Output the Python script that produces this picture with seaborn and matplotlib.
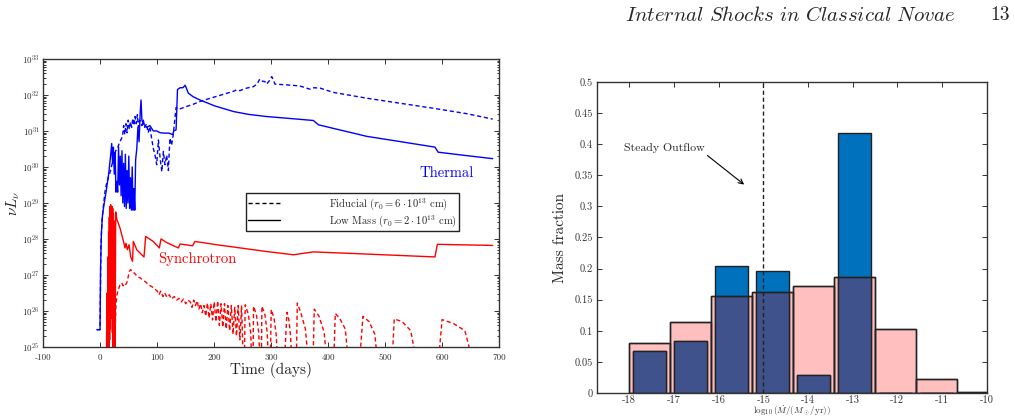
import numpy as np
import matplotlib
matplotlib.use('Agg')
import matplotlib.pyplot as plt
import matplotlib.ticker as mticker
import seaborn as sns

# ---- left panel: light curves (days, log10 nu L_nu) ----
thermal_lm_day = [-6, -0.5, 0.5, 2, 4, 7, 11, 15, 18, 20,
                  21.5, 23, 24.5, 26, 27.5, 29, 30.5, 32, 33.5, 35,
                  36.5, 38, 39.5, 41, 42.5, 44, 45.5, 47, 48.5, 50,
                  51.5, 53, 54.5, 56, 57.5, 59, 60.5, 62, 64, 66,
                  68, 70, 71.5, 73, 75.5, 81.5, 87, 93, 99, 105,
                  112, 120, 127, 129, 133, 135.5, 140, 145, 149, 154.5,
                  163, 175, 200, 233.5, 260, 292, 330, 374, 383, 420,
                  467.6, 520, 587.5, 593, 640, 688.8]
thermal_lm_log = [25.48, 25.48, 27.2, 28.2, 28.7, 29.0, 29.4, 29.85, 30.3, 30.65,
                  30.1, 30.55, 29.8, 30.4, 29.3, 29.6, 29.3, 30.55, 29.5, 30.3,
                  29.2, 30.45, 29.0, 30.1, 28.9, 30.35, 28.85, 29.9, 29.0, 30.3,
                  28.85, 29.7, 28.8, 30.0, 28.8, 29.4, 28.8, 30.2, 30.5, 31.1,
                  30.7, 31.5, 31.86, 31.3, 31.2, 31.1, 31.15, 31.0, 31.0, 30.95,
                  30.94, 30.94, 30.9, 31.0, 31.03, 32.15, 32.2, 32.2, 32.27, 32.05,
                  31.95, 31.86, 31.7, 31.54, 31.46, 31.4, 31.35, 31.29, 31.17, 31.03,
                  30.85, 30.72, 30.55, 30.41, 30.32, 30.23]

thermal_fid_day = [-6, -0.5, 1, 3, 6, 9, 12, 15, 18, 21,
                   24, 27, 30, 33, 36, 39, 41, 43, 45, 47,
                   49, 51, 53, 55, 57, 59, 61, 63, 65, 67,
                   69, 71, 73, 75.5, 78, 81, 84, 87, 90, 93,
                   96, 99, 102, 105, 108, 110.7, 113.6, 116.5, 119.5, 121,
                   122.4, 125, 128, 133, 137, 143, 151.6, 163, 175, 204,
                   233.5, 239, 245, 257, 268.6, 275, 280, 285, 289, 292,
                   297, 301, 306.7, 327, 350, 368, 375, 385.7, 409, 467.6,
                   526, 584.6, 643, 688.8]
thermal_fid_log = [25.48, 25.48, 27.8, 28.5, 29.0, 29.4, 29.6, 29.75, 29.9, 30.1,
                   30.25, 30.45, 30.5, 30.65, 30.75, 30.85, 31.15, 30.9, 31.2, 30.95,
                   31.3, 31.05, 31.25, 31.1, 31.35, 31.15, 31.4, 31.2, 31.45, 31.1,
                   31.3, 31.25, 31.15, 31.3, 31.1, 31.2, 30.95, 31.12, 30.8, 30.52,
                   30.33, 30.06, 30.75, 30.24, 29.87, 30.43, 30.06, 30.33, 29.9, 30.43,
                   30.8, 30.6, 30.89, 31.65, 31.6, 31.63, 31.68, 31.74, 31.82, 31.96,
                   32.1, 32.14, 32.12, 32.19, 32.23, 32.3, 32.44, 32.38, 32.37, 32.3,
                   32.4, 32.51, 32.3, 32.28, 32.25, 32.16, 32.2, 32.19, 32.07, 31.91,
                   31.77, 31.63, 31.48, 31.33]

sync_lm_day = [10, 12, 12.7, 13.4, 14, 14.6, 15.2, 15.8, 16.4, 17,
               17.6, 18.2, 18.8, 19.4, 20, 20.6, 21.2, 21.8, 22.4, 23,
               23.6, 24.2, 24.8, 25.4, 26, 27, 29, 34.6, 40.4, 43.4,
               45, 47.5, 50.5, 53.4, 56.5, 58, 64, 72.7, 76.7, 79.6,
               93, 103.6, 106.6, 116.5, 137, 140, 162, 166, 204, 292,
               339, 374, 467.6, 587.5, 591.6, 688.8]
sync_lm_log = [24.0, 26.5, 24.5, 27.5, 24.6, 28.2, 24.8, 28.6, 25.2, 28.9,
               25.5, 28.95, 25.8, 28.9, 26.0, 28.9, 25.4, 28.85, 25.0, 28.7,
               24.5, 28.5, 24.5, 28.4, 24.8, 28.75, 28.55, 28.3, 27.95, 27.75,
               27.88, 27.7, 27.84, 27.5, 27.38, 27.93, 27.7, 27.56, 27.5, 28.07,
               27.93, 27.75, 28.0, 27.9, 27.75, 27.86, 27.81, 27.93, 27.84, 27.65,
               27.56, 27.64, 27.58, 27.5, 27.85, 27.82]

sync_fid_day = [24, 26, 27.6, 29.2, 32, 34.6, 37.6, 40, 42, 44,
                46.4, 49, 51, 53.4, 56, 60, 65, 70, 75, 80,
                85, 90, 95, 100, 103, 106, 110, 113, 117, 121,
                125, 130, 134, 138, 142, 146, 150, 154, 158, 161,
                164, 167, 170, 173, 176, 179, 182, 185, 188, 191,
                194, 197, 200, 203, 206, 209, 212, 215, 218, 221,
                224, 227, 230, 233, 236, 239, 242, 245, 248, 251,
                252.7, 254.4, 260, 264, 266, 268, 269, 274, 278, 280.8,
                282.6, 283.7, 289, 293, 295.4, 298.4, 300, 305, 309, 311.2,
                323, 327.6, 331, 334, 336.4, 344, 345.8, 352, 360, 365.7,
                373.3, 375.6, 384, 393, 398, 409.6, 412.5, 420, 430, 436,
                454.7, 461, 472, 482, 487, 512, 516, 530, 545, 556,
                593, 600, 620, 640, 655.5]
sync_fid_log = [24.5, 25.4, 26.2, 26.45, 26.6, 26.73, 26.78, 26.7, 26.75, 26.72,
                26.78, 26.95, 27.1, 27.15, 27.08, 27.05, 26.95, 26.92, 26.85, 26.8,
                26.72, 26.68, 26.62, 26.55, 26.45, 26.55, 26.4, 26.5, 26.38, 26.45,
                26.33, 26.4, 26.3, 26.35, 26.25, 26.33, 26.2, 26.3, 26.25, 26.1,
                26.3, 26.15, 26.28, 26.05, 26.2, 25.95, 26.15, 25.85, 26.22, 25.8,
                26.2, 25.75, 26.25, 25.7, 26.28, 25.6, 26.2, 25.55, 26.2, 25.5,
                26.15, 25.45, 26.15, 25.35, 26.1, 25.3, 26.15, 25.2, 26.15, 24.5,
                24.5, 26.17, 25.9, 25.4, 24.5, 24.5, 26.13, 25.9, 25.4, 24.5,
                24.5, 26.13, 25.9, 25.4, 24.5, 24.5, 26.04, 25.8, 25.3, 24.5,
                24.5, 25.96, 25.75, 25.3, 24.5, 24.5, 26.22, 25.95, 25.5, 24.5,
                24.5, 26.05, 25.85, 25.4, 24.5, 24.5, 25.93, 25.8, 25.5, 24.5,
                24.5, 25.85, 25.7, 25.35, 24.5, 24.5, 25.78, 25.7, 25.45, 24.5,
                24.5, 25.76, 25.65, 25.45, 24.5]

# ---- right panel: mass fraction histogram ----
bin_centers = [-17.54, -16.625, -15.71, -14.79, -13.875, -12.96, -12.04, -11.125, -10.21]
mass_pink = [0.0797, 0.1146, 0.1558, 0.1631, 0.1727, 0.1858, 0.103, 0.0227, 0.001]
mass_blue = [0.0681, 0.0829, 0.2043, 0.1959, 0.029, 0.4182, 0.0, 0.0, 0.0]
hist_xticks = [-18, -17, -16, -15, -14, -13, -12, -11, -10]
hist_yticks = [0, 0.05, 0.1, 0.15, 0.2, 0.25, 0.3, 0.35, 0.4, 0.45, 0.5]
hist_ylabels = ['0', '0.05', '0.1', '0.15', '0.2', '0.25', '0.3', '0.35', '0.4', '0.45', '0.5']
steady_outflow = -15.0

sns.set_style('ticks')
plt.rcParams['font.family'] = ['cmr10', 'DejaVu Serif']
plt.rcParams['mathtext.fontset'] = 'cm'
plt.rcParams['axes.unicode_minus'] = False
plt.rcParams['axes.formatter.use_mathtext'] = True
plt.rcParams['axes.edgecolor'] = '#333333'

BLUE = '#0000FF'
RED = '#FF0000'

fig = plt.figure(figsize=(10.15, 4.18), dpi=100)
ax1 = fig.add_axes([0.0427, 0.170, 0.449, 0.689])
ax2 = fig.add_axes([0.5879, 0.0598, 0.3842, 0.7442])


def draw(ax, days, logs, color, dashed, label=None):
    sns.lineplot(x=days, y=10.0 ** np.array(logs), ax=ax, color=color,
                 linewidth=1.0, sort=False, estimator=None, label=label)
    line = ax.lines[-1]
    if dashed:
        line.set_dashes([3, 2])


draw(ax1, thermal_fid_day, thermal_fid_log, BLUE, True)
draw(ax1, thermal_lm_day, thermal_lm_log, BLUE, False)
draw(ax1, sync_fid_day, sync_fid_log, RED, True)
draw(ax1, sync_lm_day, sync_lm_log, RED, False)

ax1.set_yscale('log')
ax1.set_xlim(-100, 700)
ax1.set_ylim(1e25, 1e33)
ax1.set_xticks(np.arange(-100, 701, 100))
ax1.set_xticklabels([str(t) for t in range(-100, 701, 100)])
ax1.yaxis.set_major_locator(mticker.LogLocator(base=10, numticks=20))
ax1.yaxis.set_minor_locator(mticker.LogLocator(base=10, subs=np.arange(2, 10), numticks=20))
ax1.yaxis.set_minor_formatter(mticker.NullFormatter())
ax1.tick_params(which='both', direction='in', top=True, right=True, labelsize=6.5,
                colors='#333333', width=0.7, pad=2.5)
ax1.tick_params(axis='x', pad=4.5)
ax1.tick_params(which='major', length=3.5)
ax1.tick_params(which='minor', length=1.8)
ax1.set_xlabel('Time (days)', fontsize=11, labelpad=0)
ax1.set_ylabel(r'$\nu L_\nu$', fontsize=11, labelpad=0)
for s in ax1.spines.values():
    s.set_linewidth(1.0)

ax1.text(608, 10 ** 29.83, 'Thermal', color=BLUE, fontsize=10.5, ha='center', va='center')
ax1.text(170, 10 ** 27.45, 'Synchrotron', color=RED, fontsize=10.5, ha='center', va='center')

leg_handles = [plt.Line2D([], [], color='k', lw=1.0, dashes=[3, 2]),
               plt.Line2D([], [], color='k', lw=1.0)]
leg_labels = [r'Fiducial ($r_0 = 6\cdot10^{13}$ cm)', r'Low Mass ($r_0 = 2\cdot10^{13}$ cm)']
leg = ax1.legend(leg_handles, leg_labels, loc='upper right', bbox_to_anchor=(0.912, 0.534),
                 fontsize=7.6, frameon=True, fancybox=False, edgecolor='#222222',
                 framealpha=1, handlelength=3.0, handletextpad=4.6, borderpad=0.25,
                 labelspacing=0.1, borderaxespad=0)
leg.get_frame().set_linewidth(1.0)

# histogram: pink behind, blue, navy overlap, pink outlines on top
NAVY = '#3F528C'
overlap = np.minimum(mass_blue, mass_pink)
sns.barplot(x=bin_centers, y=mass_pink, native_scale=True, width=1.0, color='#FFBFBF',
            saturation=1, edgecolor='#222222', linewidth=1.0, errorbar=None, ax=ax2, zorder=1)
sns.barplot(x=bin_centers, y=mass_blue, native_scale=True, width=0.81, color='#0072BD',
            saturation=1, edgecolor='#222222', linewidth=1.0, errorbar=None, ax=ax2, zorder=2)
sns.barplot(x=bin_centers, y=overlap, native_scale=True, width=0.81, color=NAVY,
            saturation=1, edgecolor='#222222', linewidth=1.0, errorbar=None, ax=ax2, zorder=3)
sns.barplot(x=bin_centers, y=mass_pink, native_scale=True, width=1.0, fill=False,
            edgecolor='#222222', linewidth=1.0, errorbar=None, ax=ax2, zorder=4)

ax2.axvline(steady_outflow, color='#222222', lw=1.0, dashes=[3, 2], zorder=5)
ax2.annotate('Steady Outflow', xy=(-15.43, 0.335), xytext=(-18.13, 0.394),
             fontsize=8.5, ha='left', va='center',
             arrowprops=dict(arrowstyle='->', color='k', lw=0.8,
                             shrinkA=0, shrinkB=0, relpos=(1.0, 0.0)))

ax2.set_xlim(-18.73, -10)
ax2.set_ylim(0, 0.5)
ax2.set_xticks(hist_xticks)
ax2.set_xticklabels([str(t) for t in hist_xticks])
ax2.set_yticks(hist_yticks)
ax2.set_yticklabels(hist_ylabels)
ax2.tick_params(which='both', direction='in', top=True, right=True, labelsize=7.5,
                colors='#333333', length=3.5, width=0.7, pad=3)
ax2.tick_params(axis='x', pad=1.5)
ax2.set_ylabel('Mass fraction', fontsize=11, labelpad=5)
ax2.set_xlabel('')
for s in ax2.spines.values():
    s.set_linewidth(1.0)
# x label sits at the very bottom edge of the page crop
fig.text(0.7800, 0.001, r'$\log_{10}(\dot{M}/(M_\odot/{\rm yr}))$', fontsize=6.5,
         ha='center', va='bottom', color='#333333')

# page header
fig.text(0.941, 0.963, r'$\mathit{Internal\ Shocks\ in\ Classical\ Novae}$',
         fontsize=15, ha='right', va='center')
fig.text(0.995, 0.963, '13', fontsize=14, ha='right', va='center')

fig.savefig('out.png', dpi=100)
